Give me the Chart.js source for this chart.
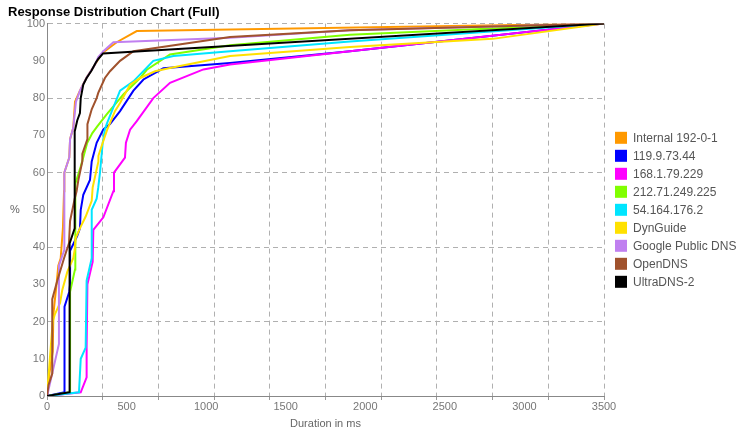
<!DOCTYPE html>
<html>
<head>
<meta charset="utf-8">
<title>Response Distribution Chart (Full)</title>
<script src="https://cdn.jsdelivr.net/npm/chart.js@4.4.1/dist/chart.umd.min.js"></script>
<style>
  body { margin: 0; background: #fff; }
  #wrap { width: 747px; height: 436px; }
</style>
</head>
<body>
<div id="wrap"><canvas id="chart" width="747" height="436"></canvas></div>
<script>
// series names and colours, in legend order
const seriesNames = ['Internal 192-0-1', '119.9.73.44', '168.1.79.229', '212.71.249.225',
  '54.164.176.2', 'DynGuide', 'Google Public DNS', 'OpenDNS', 'UltraDNS-2'];
const seriesColors = ['#FF9900', '#0000FF', '#FF00FF', '#80FF00',
  '#00E5FF', '#FFE100', '#C080F0', '#A0522D', '#000000'];

// [duration ms, cumulative %]
const internalPts = [[0,0],[15,6],[36,12],[40,22],[60,30],[71,35],[86,37],[100,45],[107,55],[109,60],[140,64],[145,69],[165,72],[176,79],[207,82],[249,85.5],[302,89],[344,92],[438,95],[564,98],[3500,100]];
const ip119Pts = [[0,0],[110,1],[110,24],[140,28],[145,30],[145,39],[190,43],[207,45],[212,50],[228,54],[270,58],[281,63],[312,68],[354,71.6],[396,73],[459,76.5],[543,82],[606,85],[731,88],[1150,89.4],[1904,92.6],[3500,100]];
const ip168Pts = [[0,0],[212,1],[249,5],[249,13],[254,30],[281,35],[287,36],[291,44.6],[354,48],[417,55],[421,60],[490,64],[496,68],[522,71.5],[564,73.8],[668,80],[773,84.1],[983,87.7],[1150,89],[1904,92.6],[3500,100]];
const ip212Pts = [[0,0],[145,1],[145,28],[176,34],[176,40],[178,50],[180,57],[212,61.6],[253,68],[285,70.6],[316,72.4],[375,75.6],[480,81],[585,85.4],[627,87.6],[773,91.7],[1150,94.2],[1904,97],[3500,100]];
const ip54Pts = [[0,0],[201,1],[212,10],[243,13],[249,31],[281,37],[281,50],[312,53],[322,56],[333,60],[350,68],[364,71.6],[375,73],[459,82],[543,84.5],[668,90],[794,91.3],[1150,92.6],[1904,95.2],[3500,100]];
const dynPts = [[0,0],[36,20],[50,22],[82,25],[96,28.5],[128,33.4],[165,37],[174,39.2],[180,42.4],[212,45.5],[243,48.2],[281,52.4],[287,56],[323,63],[323,64.5],[364,69.8],[379,71.6],[427,76.5],[459,78.7],[522,83.6],[585,85.4],[679,87.2],[773,88.1],[1150,91.3],[1904,93.7],[2800,95.9],[3500,100]];
const googlePts = [[0,0],[6,1],[75,14],[75,35],[107,39],[109,60],[140,64],[145,69],[165,72],[182,79],[207,82],[249,85.5],[302,89],[322,91],[354,92.6],[417,95],[1150,96.2],[1904,98.2],[3500,100]];
const openPts = [[0,0],[10,3],[33,6],[33,26],[65,31],[107,37],[138,41],[145,47],[174,53],[186,55],[197,58],[222,63],[222,65],[254,69],[254,73],[281,77],[312,80],[322,81.4],[364,85.4],[396,87.2],[459,90],[543,92.6],[1150,96.4],[1904,98.2],[3500,100]];
const ultraPts = [[0,0],[140,1],[142,41],[174,45],[174,71],[190,74],[207,76],[212,80],[228,83.6],[249,85.4],[280,87.4],[306,89.5],[322,90.5],[352,92],[3500,100]];

const seriesPts = [internalPts, ip119Pts, ip168Pts, ip212Pts, ip54Pts, dynPts, googlePts, openPts, ultraPts];

// axis labels and grid positions
const xTickLabels = [0, 500, 1000, 1500, 2000, 2500, 3000, 3500];
const xGridValues = [0, 350, 700, 1050, 1400, 1750, 2100, 2450, 2800, 3150, 3500];
const yTickLabels = [0, 10, 20, 30, 40, 50, 60, 70, 80, 90, 100];
const yGridValues = [0, 20, 40, 60, 80, 100];

const FONT = '"Liberation Sans", Arial, sans-serif';
const xTicks = Array.from(new Set(xTickLabels.concat(xGridValues))).sort((a, b) => a - b);

// legend on the right plus the upright "%" axis label
const sideLegend = {
    id: 'sideLegend',
    afterDraw(chart) {
        const { ctx, chartArea } = chart;
        const mid = (chartArea.top + chartArea.bottom) / 2;
        ctx.save();
        ctx.font = '11px ' + FONT;
        ctx.fillStyle = '#666';
        ctx.textAlign = 'center';
        ctx.textBaseline = 'middle';
        ctx.fillText('%', 15, mid);

        const rowH = 18;
        let y = mid - chart.data.datasets.length * rowH / 2;
        ctx.font = '12px ' + FONT;
        ctx.textAlign = 'left';
        chart.data.datasets.forEach(ds => {
            ctx.fillStyle = ds.borderColor;
            ctx.fillRect(615, y + 3, 12, 12);
            ctx.fillStyle = '#555';
            ctx.fillText(ds.label, 633, y + 9.5);
            y += rowH;
        });
        ctx.restore();
    }
};

const ctx = document.getElementById('chart').getContext('2d');
const chart = new Chart(ctx, {
    type: 'line',
    data: {
        datasets: seriesPts.map((pts, i) => ({
            label: seriesNames[i],
            data: pts.map(p => ({ x: p[0], y: p[1] })),
            borderColor: seriesColors[i],
            backgroundColor: seriesColors[i],
            borderWidth: 2,
            pointRadius: 0,
            tension: 0,
            fill: false,
            order: seriesPts.length - 1 - i  // later series drawn on top
        }))
    },
    options: {
        responsive: false,
        animation: false,
        layout: { padding: { left: 8, right: 143, top: 0, bottom: 5 } },
        plugins: {
            legend: { display: false },
            tooltip: { enabled: false },
            title: {
                display: true,
                text: 'Response Distribution Chart (Full)',
                align: 'start',
                color: '#000',
                font: { family: FONT, size: 13, weight: 'bold' },
                padding: { top: 5, bottom: 3 }
            }
        },
        scales: {
            x: {
                type: 'linear',
                min: 0,
                max: 3500,
                afterBuildTicks: axis => { axis.ticks = xTicks.map(v => ({ value: v })); },
                afterFit: axis => { axis.height = 35; },
                ticks: {
                    autoSkip: false,
                    maxRotation: 0,
                    padding: 0,
                    color: '#777',
                    font: { family: FONT, size: 11 },
                    callback: v => xTickLabels.includes(v) ? String(v) : ''
                },
                grid: {
                    color: c => (c.tick && xGridValues.includes(c.tick.value)) ? '#b0b0b0' : 'transparent',
                    tickColor: c => (c.tick && xGridValues.includes(c.tick.value)) ? '#999' : 'transparent',
                    tickLength: 4
                },
                border: { color: '#888', dash: [5, 4] },
                title: {
                    display: true,
                    text: 'Duration in ms',
                    color: '#666',
                    font: { family: FONT, size: 11 },
                    padding: 0
                }
            },
            y: {
                min: 0,
                max: 100,
                afterBuildTicks: axis => { axis.ticks = yTickLabels.map(v => ({ value: v })); },
                afterFit: axis => { axis.width = 39; },
                ticks: {
                    padding: 2,
                    color: '#777',
                    font: { family: FONT, size: 11 },
                    callback: v => String(v)
                },
                grid: {
                    color: c => (c.tick && yGridValues.includes(c.tick.value)) ? '#b0b0b0' : 'transparent',
                    drawTicks: false
                },
                border: { color: '#888', dash: [5, 4] }
            }
        }
    },
    plugins: [sideLegend]
});
</script>
</body>
</html>
